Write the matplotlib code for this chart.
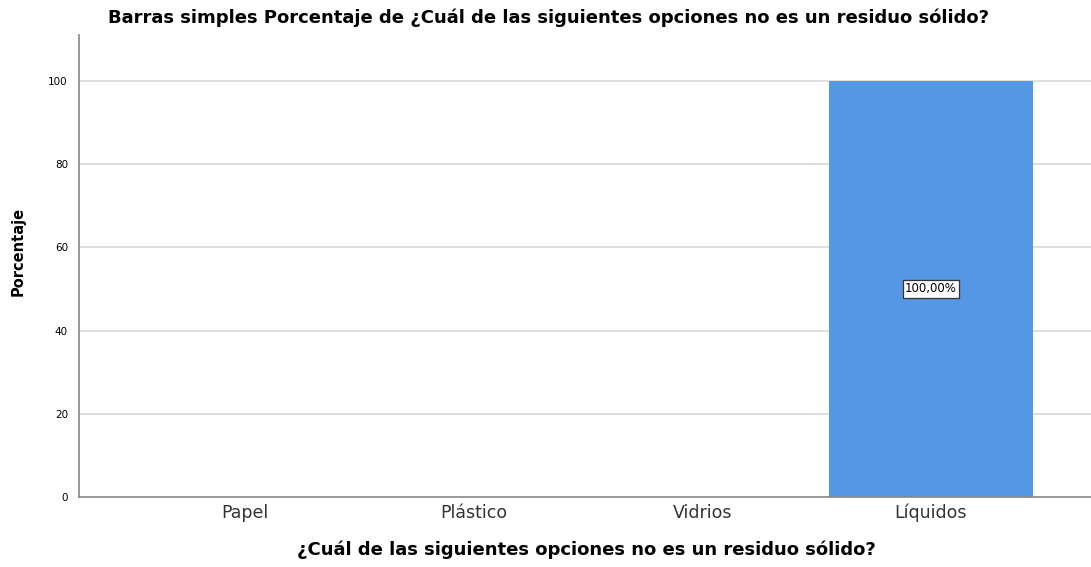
import matplotlib
matplotlib.use('Agg')
import matplotlib.pyplot as plt
import numpy as np

plt.rcParams['font.family'] = ['DejaVu Sans']

categories = ['Papel', 'Plástico', 'Vidrios', 'Líquidos']
percentages = [0, 0, 0, 100]
yticks = [0, 20, 40, 60, 80, 100]

fig = plt.figure(figsize=(10.91, 5.67), dpi=100)
ax = fig.add_axes([0.0724, 0.1235, 0.9276, 0.8145])

x = np.arange(len(categories))
# grid lines behind the bars
for t in yticks[1:]:
    ax.axhline(t, color='#dcdcdc', lw=1.3, zorder=0)

bars = ax.bar(x, percentages, width=0.895, color='#5596e5', zorder=2)
for xi, v in zip(x, percentages):
    if v > 0:
        ax.text(xi, v / 2, f'{v:.2f}%'.replace('.', ','), ha='center', va='center', fontsize=8.5,
                bbox=dict(boxstyle='square,pad=0.2', fc='white', ec='#333333', lw=0.9), zorder=3)

ax.set_xlim(-0.725, 3.70)
ax.set_ylim(0, 111)
ax.set_xticks(x)
ax.set_xticklabels(categories, fontsize=12.5, color='#333333')
ax.set_yticks(yticks)
ax.set_yticklabels([str(t) for t in yticks], fontsize=7.5)
ax.tick_params(axis='both', length=0)
ax.tick_params(axis='y', pad=8)
ax.tick_params(axis='x', pad=5)

for s in ['top', 'right']:
    ax.spines[s].set_visible(False)
for s in ['left', 'bottom']:
    ax.spines[s].set_color('#888888')
    ax.spines[s].set_linewidth(1.2)

ax.set_xlabel('¿Cuál de las siguientes opciones no es un residuo sólido?', fontsize=13,
              fontweight='bold')
ax.xaxis.set_label_coords(0.501, -0.094)
ax.set_ylabel('Porcentaje', fontsize=10.5, fontweight='bold')
ax.yaxis.set_label_coords(-0.053, 0.532)
fig.text(0.503, 0.968, 'Barras simples Porcentaje de ¿Cuál de las siguientes opciones no es un residuo sólido?',
         ha='center', va='center', fontsize=13, fontweight='bold')

fig.savefig('out.png', dpi=100)
